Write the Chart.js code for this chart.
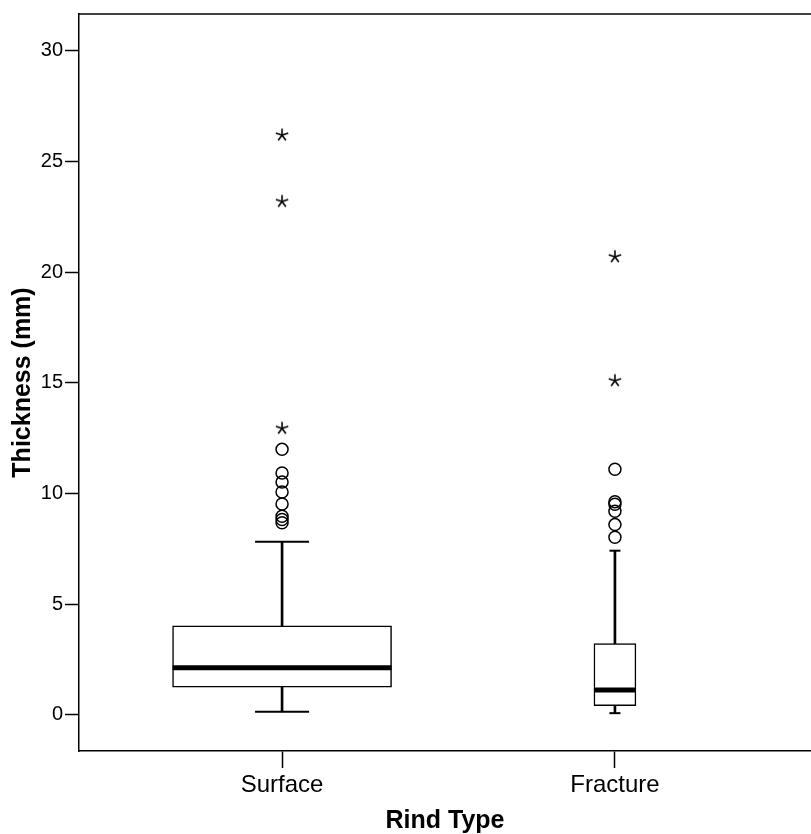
<!DOCTYPE html>
<html>
<head>
<meta charset="utf-8">
<title>Rind thickness boxplot</title>
<script src="https://cdn.jsdelivr.net/npm/chart.js@4/dist/chart.umd.min.js"></script>
<style>
  html, body { margin: 0; padding: 0; background: #fff; }
  #wrap { width: 811px; height: 834px; }
</style>
</head>
<body>
<div id="wrap"><canvas id="boxChart"></canvas></div>
<script>
// Categories (x positions 1, 2)
const categories = ['Surface', 'Fracture'];

// Box summaries, one entry per category
const whiskerLow = [0.14, 0.08];
const q1 = [1.25, 0.42];
const median = [2.13, 1.13];
const q3 = [4.02, 3.22];
const whiskerHigh = [7.83, 7.42];

// Outliers (circles) and extremes (stars)
const surfaceOutliers = [12.0, 10.93, 10.52, 10.07, 9.53, 8.98, 8.83, 8.68];
const surfaceExtremes = [12.95, 23.2, 26.2];
const fractureOutliers = [11.1, 9.63, 9.52, 9.2, 8.6, 8.03];
const fractureExtremes = [15.1, 20.7];

// Axis
const yTicks = [0, 5, 10, 15, 20, 25, 30];
const yMin = -1.63;
const yMax = 31.67;
const xMin = 0.39;
const xMax = 2.589;

// Box widths in pixels (style)
const boxWidths = [219, 42];
const capHalf = [27, 5.5];

const FONT = 'Arial, "Liberation Sans", sans-serif';

/**
 * SPSS-like asterisk marker
 */
function makeStar() {
  const c = document.createElement('canvas');
  c.width = 16;
  c.height = 16;
  const g = c.getContext('2d');
  g.strokeStyle = '#000';
  g.lineWidth = 1.6;
  g.lineCap = 'butt';
  for (let k = 0; k < 5; k++) {
    const a = -Math.PI / 2 + k * 2 * Math.PI / 5;
    g.beginPath();
    g.moveTo(8, 8);
    g.lineTo(8 + Math.cos(a) * 6.5, 8 + Math.sin(a) * 6.5);
    g.stroke();
  }
  return c;
}
const starMarker = makeStar();

function toPoints(x, values) {
  return values.map(v => ({ x: x, y: v }));
}

// Build datasets from the arrays
const datasets = [];

categories.forEach((name, i) => {
  const x = i + 1;

  // box (Q1..Q3)
  datasets.push({
    type: 'bar',
    label: name + ' box',
    data: [{ x: x, y: [q1[i], q3[i]] }],
    backgroundColor: '#ffffff',
    borderColor: '#000000',
    borderWidth: 1.5,
    borderSkipped: false,
    barThickness: boxWidths[i],
    grouped: false,
    order: 3
  });

  // whisker stems
  datasets.push({
    type: 'bar',
    label: name + ' stems',
    data: [
      { x: x, y: [q3[i], whiskerHigh[i]] },
      { x: x, y: [whiskerLow[i], q1[i]] }
    ],
    backgroundColor: '#000000',
    borderWidth: 0,
    barThickness: 2,
    grouped: false,
    order: 4
  });

  // whisker caps
  datasets.push({
    type: 'scatter',
    label: name + ' caps',
    data: [{ x: x, y: whiskerHigh[i] }, { x: x, y: whiskerLow[i] }],
    pointStyle: 'line',
    radius: capHalf[i],
    borderColor: '#000000',
    borderWidth: 2,
    order: 1
  });

  // median
  datasets.push({
    type: 'scatter',
    label: name + ' median',
    data: [{ x: x, y: median[i] }],
    pointStyle: 'line',
    radius: boxWidths[i] / 2,
    borderColor: '#000000',
    borderWidth: 5,
    order: 0
  });
});

// outliers
[[1, surfaceOutliers, surfaceExtremes], [2, fractureOutliers, fractureExtremes]].forEach(([x, outs, exts]) => {
  datasets.push({
    type: 'scatter',
    label: 'outliers ' + x,
    data: toPoints(x, outs),
    pointStyle: 'circle',
    radius: 6,
    backgroundColor: 'rgba(0,0,0,0)',
    borderColor: '#000000',
    borderWidth: 1.5,
    order: 0
  });
  datasets.push({
    type: 'scatter',
    label: 'extremes ' + x,
    data: toPoints(x, exts),
    pointStyle: starMarker,
    order: 0
  });
});

// Frame top line (right side falls off the canvas like the reference)
const framePlugin = {
  id: 'frame',
  afterDraw(chart) {
    const { ctx, chartArea } = chart;
    ctx.save();
    ctx.strokeStyle = '#000';
    ctx.lineWidth = 1.5;
    ctx.beginPath();
    ctx.moveTo(chartArea.left, chartArea.top);
    ctx.lineTo(chart.width, chartArea.top);
    ctx.stroke();
    ctx.restore();
  }
};

new Chart(document.getElementById('boxChart'), {
  type: 'bar',
  data: { datasets: datasets },
  options: {
    responsive: true,
    maintainAspectRatio: false,
    animation: false,
    layout: { autoPadding: false, padding: { top: 14, right: 0, bottom: 0, left: 0 } },
    plugins: {
      legend: { display: false },
      tooltip: { enabled: false }
    },
    scales: {
      x: {
        type: 'linear',
        min: xMin,
        max: xMax,
        offset: false,
        grid: {
          offset: false,
          drawOnChartArea: false,
          drawTicks: true,
          tickLength: 17,
          tickWidth: 1.5,
          tickColor: '#000'
        },
        border: { display: true, color: '#000', width: 1.5 },
        afterBuildTicks: scale => {
          scale.ticks = categories.map((c, i) => ({ value: i + 1 }));
        },
        afterFit: scale => { scale.height = 83; },
        ticks: {
          color: '#000',
          padding: 3,
          font: { family: FONT, size: 24 },
          callback: v => categories[v - 1] || ''
        },
        title: {
          display: true,
          text: 'Rind Type',
          color: '#000',
          padding: 0,
          font: { family: FONT, size: 25, weight: 'bold', lineHeight: 1 }
        }
      },
      y: {
        type: 'linear',
        min: yMin,
        max: yMax,
        grid: {
          drawOnChartArea: false,
          drawTicks: true,
          tickLength: 14,
          tickWidth: 1.5,
          tickColor: '#000'
        },
        border: { display: true, color: '#000', width: 1.5 },
        afterBuildTicks: scale => {
          scale.ticks = yTicks.map(v => ({ value: v }));
        },
        afterFit: scale => { scale.width = 79; },
        ticks: {
          color: '#000',
          padding: 2,
          font: { family: FONT, size: 20 }
        },
        title: {
          display: true,
          text: 'Thickness (mm)',
          color: '#000',
          padding: { top: 11, bottom: 0 },
          font: { family: FONT, size: 25, weight: 'bold', lineHeight: 1 }
        }
      }
    }
  },
  plugins: [framePlugin]
});
</script>
</body>
</html>
